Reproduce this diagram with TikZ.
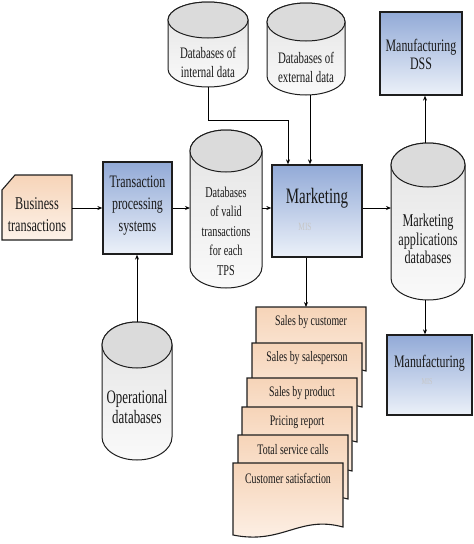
\documentclass[tikz,border=0pt]{standalone}
\usepackage{fontspec}
\setmainfont{Liberation Serif}[FakeStretch=0.68]
\usetikzlibrary{arrows.meta,calc}
\definecolor{bluetop}{RGB}{146,170,215}
\definecolor{bluebot}{RGB}{236,241,249}
\definecolor{peachtop}{RGB}{246,212,184}
\definecolor{peachbot}{RGB}{253,242,233}
\definecolor{edge}{RGB}{30,30,30}
\tikzset{
  arr/.style={draw=black, line width=0.9pt, -{Stealth[length=5pt,width=4pt]}},
  ln/.style={draw=black, line width=0.9pt},
  bluebox/.style={draw=edge, line width=1.3pt, top color=bluetop, bottom color=bluebot, inner sep=0pt},
  peachshape/.style={draw=edge, line width=1.1pt, top color=peachtop, bottom color=peachbot},
  cylbody/.style={draw=edge, line width=1pt, top color=gray!22, bottom color=gray!4},
  cyltop/.style={draw=edge, line width=1pt, fill=gray!28},
  anchorbox/.style={inner sep=0pt, outer sep=0pt, draw=none},
  txt/.style={align=center, inner sep=0pt, text=black!90},
}
% name, xL, xR, yTop, yBot, ry
\newcommand\mycyl[6]{%
  \path[cylbody] (#2,{-#4-#6}) -- (#2,{-#5+#6})
    arc[start angle=180,end angle=360,x radius={(#3-#2)/2},y radius=#6]
    -- (#3,{-#4-#6})
    arc[start angle=0,end angle=180,x radius={(#3-#2)/2},y radius=#6] -- cycle;
  \path[cyltop] ({(#2+#3)/2},{-#4-#6}) ellipse[x radius={(#3-#2)/2},y radius=#6];
  \node[anchorbox, minimum width={#3-#2}, minimum height={#5-#4}] (#1) at ({(#2+#3)/2},{-(#4+#5)/2}) {};
}
% name, xL, xR, yTop, text
\newcommand\mydoc[5]{%
  \path[peachshape] (#2,-#4) -- (#3,-#4) -- (#3,{-#4-64})
    .. controls ({#3-0.4*(#3-#2)},{-#4-52}) and ({#2+0.45*(#3-#2)},{-#4-82}) .. (#2,{-#4-72}) -- cycle;
  \node[anchorbox, minimum width={#3-#2}, minimum height=64] (#1) at ({(#2+#3)/2},{-#4-32}) {};
  \node[txt, font=\fontsize{14.5}{16}\selectfont] (#1t) at ({(#2+#3)/2},{-#4-15}) {#5};
}
\begin{document}
\begin{tikzpicture}[x=1pt,y=1pt]
\useasboundingbox (0,0) rectangle (474,-544);

% Business transactions
\path[peachshape] (2,-190) -- (15,-175) -- (72,-175) -- (72,-240) -- (2,-240) -- cycle;
\node[anchorbox, minimum width=70, minimum height=65] (bt) at (37,-207.5) {};
\node[txt, font=\fontsize{18}{22}\selectfont] (btt) at (37,-215) {Business\\transactions};

% TPS
\node[bluebox, minimum width=69, minimum height=92] (tps) at (137.5,-208) {};
\node[txt, font=\fontsize{17.5}{22}\selectfont] (tpst) at (137.5,-206) {Transaction\\processing\\systems};

% Cylinders
\mycyl{dbv}{190}{262}{130}{288}{21}
\node[txt, font=\fontsize{15}{19.5}\selectfont] (dbvt) at (226,-231) {Databases\\of valid\\transactions\\for each\\TPS};

\mycyl{dbi}{168}{248}{2}{87}{18}
\node[txt, font=\fontsize{16}{19}\selectfont] (dbit) at (208,-62.5) {Databases of\\internal data};

\mycyl{dbe}{267}{345}{3}{95}{19}
\node[txt, font=\fontsize{16}{19}\selectfont] (dbet) at (306,-67.5) {Databases of\\external data};

\mycyl{mad}{391}{465}{143}{300}{22}
\node[txt, font=\fontsize{18}{18.5}\selectfont] (madt) at (428,-239) {Marketing\\applications\\databases};

\mycyl{op}{102}{172}{322}{460}{23}
\node[txt, font=\fontsize{19}{20}\selectfont] (opt) at (137,-407) {Operational\\databases};

% Marketing
\node[bluebox, minimum width=90, minimum height=92] (mkt) at (317,-211) {};
\node[txt, font=\fontsize{22}{24}\selectfont] (mktt) at (317,-198) {Marketing};
\node[txt, font=\fontsize{11}{12}\selectfont, text=gray!45] (mktf) at (305,-227) {MIS};

% Manufacturing DSS
\node[bluebox, minimum width=82, minimum height=83] (dss) at (421,-53.5) {};
\node[txt, font=\fontsize{17.5}{18}\selectfont] (dsst) at (421,-54) {Manufacturing\\DSS};

% Manufacturing
\node[bluebox, minimum width=85, minimum height=80] (mfg) at (429.5,-375) {};
\node[txt, font=\fontsize{17.5}{18}\selectfont] (mfgt) at (429.5,-363) {Manufacturing};
\node[txt, font=\fontsize{9}{10}\selectfont, text=gray!45] (mfgf) at (427,-382) {MIS};

% Reports
\mydoc{r1}{256}{366}{307}{Sales by customer}
\mydoc{r2}{252}{362}{343}{Sales by salesperson}
\mydoc{r3}{247}{357}{378}{Sales by product}
\mydoc{r4}{242}{352}{407}{Pricing report}
\mydoc{r5}{238}{348}{435}{Total service calls}
\mydoc{r6}{233}{343}{463}{Customer satisfaction}

% Connectors
\draw[arr] (bt.east |- tps.west) -- (tps.west);
\draw[arr] (tps.east) -- (tps.east -| dbv.west);
\draw[arr] (dbv.east |- tps.east) -- (tps.east -| mkt.west);
\coordinate (j1) at (288,-120);
\draw[arr] (dbi.south) |- (j1) -- (j1 |- mkt.north);
\draw[arr] ([xshift=4pt]dbe.south) -- ([xshift=4pt]dbe.south |- mkt.north);
\draw[arr] (mkt.east |- tps.east) -- (tps.east -| mad.west);
\draw[arr] ([xshift=-3pt]mad.north) -- ([xshift=-3pt]mad.north |- dss.south);
\draw[arr] ([xshift=-3pt]mad.south) -- ([xshift=-3pt]mad.south |- mfg.north);
\draw[arr] (op.north) -- (op.north |- tps.south);
\draw[arr] ([xshift=-11pt]mkt.south) -- ([xshift=-11pt]mkt.south |- r1.north);
\end{tikzpicture}
\end{document}
